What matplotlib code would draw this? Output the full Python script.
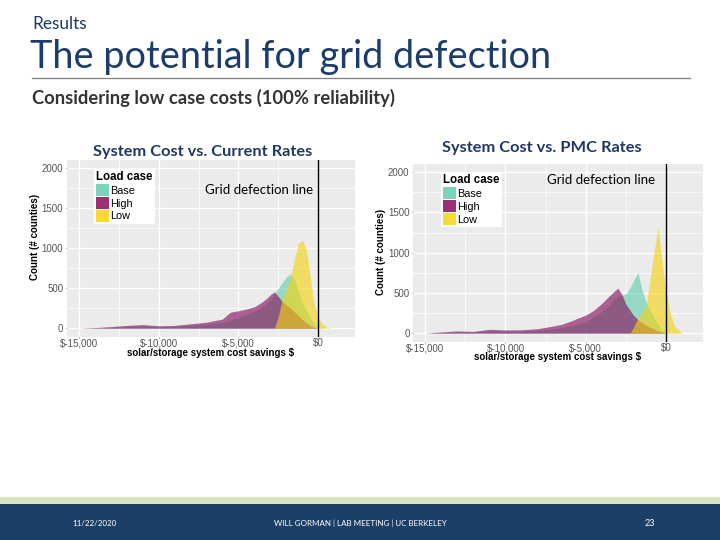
import matplotlib
matplotlib.use("Agg")
import matplotlib.pyplot as plt
from matplotlib.patches import Patch, Rectangle
from matplotlib.lines import Line2D
from matplotlib.ticker import FuncFormatter

# cost savings bins ($), shared by both panels
savings = [-15000, -14000, -13000, -12000, -11000, -10000, -9000, -8000, -7000, -6500,
           -6000, -5750, -5500, -5000, -4500, -4000, -3500, -3250, -3000, -2750,
           -2500, -2250, -2000, -1750, -1500, -1250, -1000, -750, -500, -250,
           0, 250, 500, 750, 1000]

# System cost vs. current rates (counts of counties)
base_current = [0, 3, 10, 20, 28, 18, 22, 35, 50, 60,
                72, 85, 100, 130, 170, 210, 270, 305, 355, 425,
                500, 570, 640, 680, 610, 470, 330, 225, 130, 45,
                15, 0, 0, 0, 0]
high_current = [0, 8, 20, 35, 45, 30, 35, 55, 75, 95,
                115, 160, 200, 218, 240, 268, 330, 370, 420, 455,
                395, 330, 290, 250, 205, 160, 110, 65, 30, 10,
                0, 0, 0, 0, 0]
low_current = [0, 0, 0, 0, 0, 0, 0, 0, 0, 0,
               0, 0, 0, 0, 0, 0, 0, 0, 0, 0,
               150, 370, 480, 620, 860, 1060, 1100, 980, 640, 300,
               130, 55, 18, 0, 0]

# System cost vs. PMC rates
base_pmc = [0, 8, 15, 12, 28, 22, 25, 35, 55, 70,
            90, 100, 110, 140, 200, 270, 350, 420, 455, 470,
            490, 565, 660, 755, 540, 390, 290, 195, 110, 35,
            8, 0, 0, 0, 0]
high_pmc = [0, 15, 28, 22, 48, 40, 42, 55, 90, 110,
            145, 165, 185, 225, 285, 370, 470, 515, 560, 480,
            360, 285, 215, 170, 130, 100, 75, 50, 28, 12,
            0, 0, 0, 0, 0]
low_pmc = [0, 0, 0, 0, 0, 0, 0, 0, 0, 0,
           0, 0, 0, 0, 0, 0, 0, 0, 0, 0,
           0, 0, 80, 190, 250, 330, 670, 1010, 1310, 900,
           520, 260, 100, 40, 0]

load_cases = ["Base", "High", "Low"]
load_colors = ["#62cdb0", "#860b5a", "#f6d40f"]
x_ticks = [-15000, -10000, -5000, 0]
y_ticks = [0, 500, 1000, 1500, 2000]

NAVY = "#1f3864"
W, H = 720, 540

fig = plt.figure(figsize=(7.2, 5.4), dpi=100)
fig.patch.set_facecolor("white")


def fx(x):
    return x / W


def fy(y):
    return 1 - y / H


def draw_panel(box, series, title, title_pos, ylab_pos, xlab_pos, note_pos, leg_anchor):
    left, top, right, bottom = box
    ax = fig.add_axes([fx(left), fy(bottom), (right - left) / W, (bottom - top) / H])
    ax.set_facecolor("#ebebeb")
    for vals, col in zip(series, load_colors):
        ax.fill_between(savings, 0, vals, color=col, alpha=0.62, lw=0)
    ax.axvline(0, color="black", lw=1)

    ax.set_xlim(-15760, 2300)
    ax.set_ylim(-110, 2102)
    ax.set_xticks(x_ticks)
    ax.set_xticks([-12500, -7500, -2500], minor=True)
    ax.set_yticks(y_ticks)
    ax.set_yticks([250, 750, 1250, 1750], minor=True)
    ax.xaxis.set_major_formatter(FuncFormatter(lambda v, p: f"${v:,.0f}"))
    ax.grid(which="major", color="white", lw=1.0)
    ax.grid(which="minor", color="white", lw=0.5)
    ax.set_axisbelow(True)
    for s in ax.spines.values():
        s.set_visible(False)
    ax.tick_params(which="major", length=1, width=0.6, color="#777777",
                   labelsize=7, labelcolor="#555555")
    ax.tick_params(axis="x", pad=0)
    ax.tick_params(axis="y", pad=1.5)
    ax.tick_params(which="minor", length=0)
    for lab in ax.get_xticklabels() + ax.get_yticklabels():
        lab.set_family("Liberation Sans")

    handles = [Patch(facecolor=c, edgecolor="none", alpha=0.85) for c in load_colors]
    leg = ax.legend(handles, load_cases, title="Load case", loc="upper left",
                    bbox_to_anchor=leg_anchor, frameon=True, fancybox=False,
                    borderpad=0.2, handlelength=1.2, handleheight=1.3,
                    handletextpad=0.12, labelspacing=0.1, borderaxespad=0,
                    prop={"family": "Liberation Sans", "size": 7.8})
    leg.get_frame().set_facecolor("white")
    leg.get_frame().set_edgecolor("none")
    leg.get_frame().set_alpha(1)
    leg.get_title().set_fontproperties({"family": "Liberation Sans", "size": 8.3, "weight": "bold"})
    leg._legend_box.align = "left"

    fig.text(fx(title_pos[0]), fy(title_pos[1]), title, ha="center", va="center",
             family="Lato", weight="bold", fontsize=11.8, color=NAVY)
    fig.text(fx(ylab_pos[0]), fy(ylab_pos[1]), "Count (# counties)", rotation=90,
             ha="center", va="center", family="Liberation Sans", weight="bold", fontsize=7)
    fig.text(fx(xlab_pos[0]), fy(xlab_pos[1]), "solar/storage system cost savings $",
             ha="center", va="center", family="Liberation Sans", weight="bold", fontsize=7)
    fig.text(fx(note_pos[0]), fy(note_pos[1]), "Grid defection line", ha="center",
             va="center", family="Lato", fontsize=9.5, color="black")
    return ax


draw_panel((66.7, 160, 355, 337), [base_current, high_current, low_current],
           "System Cost vs. Current Rates", (202.5, 152), (35, 237), (211, 352.5),
           (259, 190), (0.095, 0.95))
draw_panel((413, 164, 703, 342), [base_pmc, high_pmc, low_pmc],
           "System Cost vs. PMC Rates", (541.5, 148), (381, 252), (558, 357),
           (601.5, 180), (0.097, 0.955))

# slide header
fig.text(fx(32), fy(24), "Results", ha="left", va="center", family="Lato",
         fontsize=12.4, color="#1f3864")
fig.text(fx(30), fy(57), "The potential for grid defection", ha="left", va="center",
         family="Lato", fontsize=27.3, color="#1c3d6b")
fig.add_artist(Line2D([fx(32), fx(690)], [fy(78), fy(78)], color="#7f7f7f", lw=0.9))
fig.text(fx(32), fy(98), "Considering low case costs (100% reliability)", ha="left",
         va="center", family="Lato", weight="bold", fontsize=13.2, color="#333333")

# footer bands
fig.add_artist(Rectangle((0, fy(504)), 1, 7 / H, transform=fig.transFigure,
                         facecolor="#d7e4bd", edgecolor="none"))
fig.add_artist(Rectangle((0, 0), 1, fy(504), transform=fig.transFigure,
                         facecolor="#1b3f66", edgecolor="none"))
fig.text(fx(94), fy(523), "11/22/2020", ha="center", va="center", family="Lato",
         fontsize=5.8, color="white")
fig.text(fx(360), fy(523), "WILL GORMAN | LAB MEETING | UC BERKELEY", ha="center",
         va="center", family="Lato", fontsize=5.8, color="white")
fig.text(fx(650), fy(523), "23", ha="center", va="center", family="Lato",
         fontsize=6.5, color="white")

fig.savefig("out.png", dpi=100, facecolor="white")
